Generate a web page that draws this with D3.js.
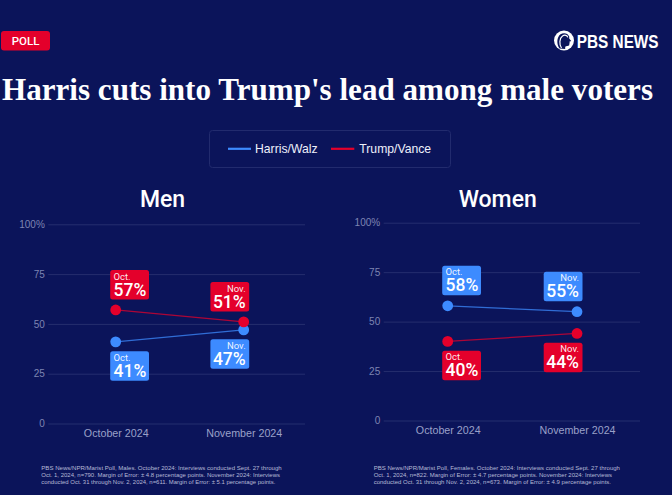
<!DOCTYPE html>
<html>
<head>
<meta charset="utf-8">
<script src="https://cdn.jsdelivr.net/npm/d3@7"></script>
<style>
  html, body { margin: 0; padding: 0; background: #0b145a; }
  svg { display: block; }
</style>
</head>
<body>
<svg id="chart" width="672" height="495"></svg>
<script>
// ---- data ----
const periods = ["October 2024", "November 2024"];
const periodShort = ["Oct.", "Nov."];
const seriesNames = ["Harris/Walz", "Trump/Vance"];
const seriesColors = ["#3d8bff", "#e4002b"];
const panels = ["Men", "Women"];
const menHarris = [41, 47];
const menTrump = [57, 51];
const womenHarris = [58, 55];
const womenTrump = [40, 44];
const yTicks = [0, 25, 50, 75, 100];
const yTickLabels = ["0", "25", "50", "75", "100%"];
const titleText = "Harris cuts into Trump's lead among male voters";
const badgeText = "POLL";
const logoText = "PBS NEWS";
const footnotes = [
  ["PBS News/NPR/Marist Poll, Males. October 2024: Interviews conducted Sept. 27 through",
   "Oct. 1, 2024, n=790. Margin of Error: \u00b1 4.8 percentage points. November 2024: Interviews",
   "conducted Oct. 31 through Nov. 2, 2024, n=611. Margin of Error: \u00b1 5.1 percentage points."],
  ["PBS News/NPR/Marist Poll, Females. October 2024: Interviews conducted Sept. 27 through",
   "Oct. 1, 2024, n=822. Margin of Error: \u00b1 4.7 percentage points. November 2024: Interviews",
   "conducted Oct. 31 through Nov. 2, 2024, n=673. Margin of Error: \u00b1 4.9 percentage points."]
];
// label placement: +1 above the point, -1 below
const menPlace = [[-1, -1], [1, 1]];     // [series][period]
const womenPlace = [[1, 1], [-1, -1]];

const panelData = [
  { name: panels[0], values: [menHarris, menTrump], place: menPlace,
    grid: [48.3, 305], pts: [115.7, 243.7], y: [423.5, 224.3], titleX: 162.5,
    footX: 41.3, footW: [240.4, 238.7, 234] },
  { name: panels[1], values: [womenHarris, womenTrump], place: womenPlace,
    grid: [383.7, 640], pts: [447.7, 577], y: [420.5, 222.7], titleX: 497.7,
    footX: 373.7, footW: [246.3, 238.3, 237.3] }
];

const SANS = "'Liberation Sans', Arial, Helvetica, sans-serif";
const MED = "Roboto, 'Liberation Sans', Arial, sans-serif";
const svg = d3.select("#chart");

svg.append("rect").attr("width", 672).attr("height", 495).attr("fill", "#0b145a");

// ---- header ----
svg.append("rect").attr("x", 1).attr("y", 31).attr("width", 49).attr("height", 19.5)
  .attr("rx", 3).attr("fill", "#e4002b");
svg.append("text").attr("x", 25.5).attr("y", 44.6).attr("text-anchor", "middle")
  .attr("font-family", MED).attr("font-weight", 500).attr("font-size", 11.5).attr("fill", "#fff")
  .text(badgeText);

// PBS logo
const logo = svg.append("g").attr("transform", "translate(564,40.5)");
logo.append("circle").attr("r", 10).attr("fill", "#fff");
logo.append("path")
  .attr("d", "M-4.5,8 C-7.5,4 -7.5,-3 -3.5,-6.2 C-0.5,-8.4 4,-7.4 5.2,-4 L5.2,-2 L7.2,0.4 L5.3,1.2 L5.8,2.6 L5.1,3.5 L5.5,4.6 C4.2,6 2.2,5.4 1.2,6.2 L1.2,8.6 Z")
  .attr("fill", "#0b145a");
logo.append("path")
  .attr("d", "M-2.5,7.5 C-5,4 -4.6,-2.5 -1.5,-4.6 C0.8,-6 3.2,-5.2 3.8,-3.2")
  .attr("fill", "none").attr("stroke", "#fff").attr("stroke-width", 1.2);
svg.append("text")
  .attr("transform", "translate(576.7,48.3) scale(0.83,1)")
  .attr("font-family", SANS).attr("font-weight", 700)
  .attr("font-size", 18.5).attr("fill", "#fff")
  .text(logoText);

// title
svg.append("text").attr("x", 2).attr("y", 100)
  .attr("font-family", "'Liberation Serif', 'DejaVu Serif', serif").attr("font-weight", 700)
  .attr("font-size", 31).attr("fill", "#fff")
  .attr("textLength", 651).attr("lengthAdjust", "spacingAndGlyphs")
  .text(titleText);

// ---- legend ----
svg.append("rect").attr("x", 209.5).attr("y", 130.5).attr("width", 241).attr("height", 37)
  .attr("rx", 3).attr("fill", "none").attr("stroke", "#222b6e").attr("stroke-width", 1);
const legX = [[228, 251, 255], [331, 354.3, 359.3]];
seriesNames.forEach((s, i) => {
  svg.append("line").attr("x1", legX[i][0]).attr("x2", legX[i][1])
    .attr("y1", 148.8).attr("y2", 148.8)
    .attr("stroke", seriesColors[i]).attr("stroke-width", 2.2);
  svg.append("text").attr("x", legX[i][2]).attr("y", 153)
    .attr("font-family", SANS).attr("font-size", 12.2).attr("fill", "#eef0fa")
    .text(s);
});

// ---- panels ----
panelData.forEach((p, pi) => {
  const g = svg.append("g");
  const x = d3.scalePoint().domain(periods).range(p.pts);
  const y = d3.scaleLinear().domain([0, 100]).range(p.y);

  g.append("text").attr("x", p.titleX).attr("y", 206.7).attr("text-anchor", "middle")
    .attr("font-family", MED).attr("font-weight", 500).attr("font-size", 23).attr("fill", "#fff")
    .text(p.name);

  // y axis with gridlines
  const yAxis = d3.axisLeft(y).tickValues(yTicks)
    .tickFormat((d, i) => yTickLabels[i])
    .tickSize(-(p.grid[1] - p.grid[0])).tickPadding(3.5);
  const ya = g.append("g").attr("transform", `translate(${p.grid[0]},0)`).call(yAxis);
  ya.select(".domain").remove();
  ya.selectAll(".tick line").attr("stroke", "#252e6e").attr("stroke-width", 1);
  ya.selectAll(".tick text").attr("fill", "#7e85b2").attr("font-family", SANS)
    .attr("font-size", 10);

  // x axis
  const xAxis = d3.axisBottom(x).tickSize(0).tickPadding(0);
  const xa = g.append("g").attr("transform", `translate(0,${y(0) + 5.5})`).call(xAxis);
  xa.select(".domain").remove();
  xa.selectAll(".tick text").attr("fill", "#9aa0c8").attr("font-family", SANS)
    .attr("font-size", 10.7).attr("dy", "0.71em");

  // lines and dots
  p.values.forEach((vals, si) => {
    const pts = periods.map((d, k) => [x(d), y(vals[k])]);
    g.append("path").datum(pts)
      .attr("d", d3.line())
      .attr("fill", "none").attr("stroke", seriesColors[si])
      .attr("stroke-opacity", 0.75).attr("stroke-width", 1.3);
    g.selectAll(null).data(pts).enter().append("circle")
      .attr("cx", d => d[0]).attr("cy", d => d[1]).attr("r", 5.4)
      .attr("fill", seriesColors[si]);
  });

  // labels (one text element, two lines)
  p.values.forEach((vals, si) => {
    periods.forEach((d, k) => {
      const cx = x(d), cy = y(vals[k]);
      const w = 38.8, h = 29.5;
      const above = p.place[si][k] > 0;
      const top = above ? cy - 10.5 - h : cy + 9.3;
      const left = k === 0 ? cx - 5.5 : cx + 5.5 - w;
      const lg = g.append("g");
      lg.append("rect").attr("x", left).attr("y", top).attr("width", w).attr("height", h)
        .attr("rx", 2.5).attr("fill", seriesColors[si]);
      const tx = k === 0 ? left + 3.3 : left + w - 3.5;
      const anchor = k === 0 ? "start" : "end";
      const t = lg.append("text").attr("text-anchor", anchor)
        .attr("font-family", MED).attr("fill", "#fff");
      t.append("tspan").attr("x", tx).attr("y", top + 9.6)
        .attr("font-size", 9.5).attr("fill-opacity", 0.92).text(periodShort[k]);
      t.append("tspan").attr("x", tx).attr("y", top + h - 3.8)
        .attr("font-weight", 500).attr("font-size", 17.5).text(vals[k] + "%");
    });
  });

  // footnote
  footnotes[pi].forEach((line, li) => {
    g.append("text").attr("x", p.footX).attr("y", 469.8 + li * 7.2)
      .attr("font-family", SANS).attr("font-size", 5.9).attr("fill", "#b6bad6")
      .attr("textLength", p.footW[li]).attr("lengthAdjust", "spacingAndGlyphs")
      .text(line);
  });
});
</script>
</body>
</html>
